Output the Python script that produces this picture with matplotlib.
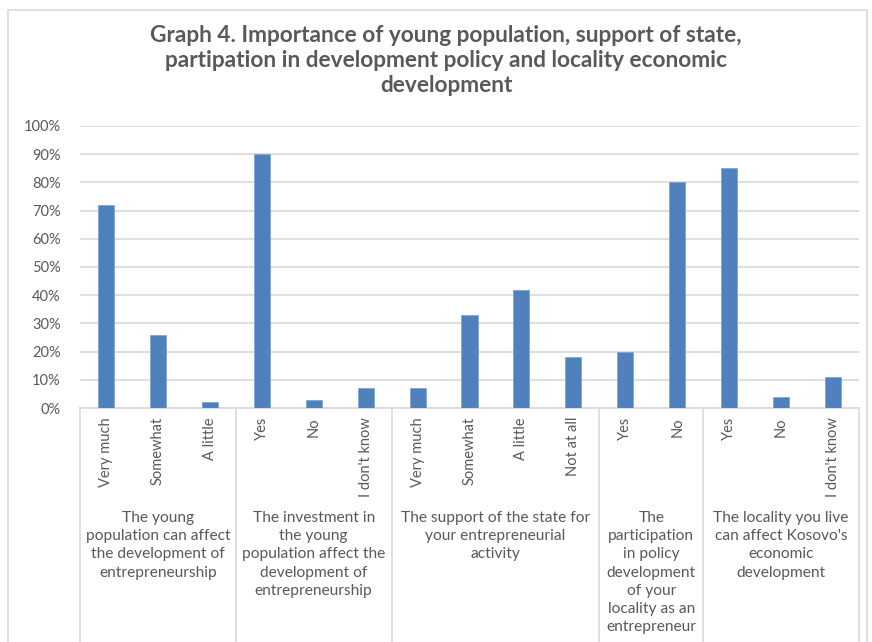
import matplotlib.pyplot as plt
import matplotlib.transforms as mtransforms
from matplotlib.patches import Rectangle

plt.rcParams['font.family'] = ['Lato', 'DejaVu Sans']

# data
answers = ['Very much', 'Somewhat', 'A little',
           'Yes', 'No', "I don't know",
           'Very much', 'Somewhat', 'A little', 'Not at all',
           'Yes', 'No',
           'Yes', 'No', "I don't know"]
values = [72, 26, 2,
          90, 3, 7,
          7, 33, 42, 18,
          20, 80,
          85, 4, 11]
group_sizes = [3, 3, 4, 2, 3]
group_names = ['The young\npopulation can affect\nthe development of\nentrepreneurship',
               'The investment in\nthe young\npopulation affect the\ndevelopment of\nentrepreneurship',
               'The support of the state for\nyour entrepreneurial\nactivity',
               'The\nparticipation\nin policy\ndevelopment\nof your\nlocality as an\nentrepreneur',
               "The locality you live\ncan affect Kosovo's\neconomic\ndevelopment"]
yticks = [0, 10, 20, 30, 40, 50, 60, 70, 80, 90, 100]

grey = '#595959'
fig = plt.figure(figsize=(8.72, 6.42), dpi=100)
ax = fig.add_axes([80 / 872, 1 - 408 / 642, (859 - 80) / 872, (408 - 126) / 642])

x = list(range(len(values)))
ax.bar(x, values, width=0.31, color='#4F81BD', edgecolor='#7a9fd0', linewidth=0.5, zorder=3)
ax.set_xlim(-0.5, len(values) - 0.5)
ax.set_ylim(0, 100)
ax.set_yticks(yticks)
ax.set_yticklabels([f'{t}%' for t in yticks], color=grey, fontsize=10.5)
ax.tick_params(axis='y', length=0, pad=14)
ax.set_xticks([])
ax.grid(axis='y', color='#d9d9d9', linewidth=1.2, zorder=0)
for s in ['top', 'right', 'left']:
    ax.spines[s].set_visible(False)
ax.spines['bottom'].set_color('#d9d9d9')
ax.spines['bottom'].set_linewidth(1.2)

trans = mtransforms.blended_transform_factory(ax.transData, ax.transAxes)
axh = 408 - 126
for i, a in enumerate(answers):
    ax.text(i, -9 / axh, a, rotation=90, ha='center', va='top', color=grey,
            fontsize=10.5, transform=trans)

start = 0
bounds = [-0.5]
for n, name in zip(group_sizes, group_names):
    mid = start + (n - 1) / 2
    ax.text(mid, -103 / axh, name, ha='center', va='top', color=grey, fontsize=11.2,
            linespacing=1.38, transform=trans)
    start += n
    bounds.append(start - 0.5)
for b in bounds:
    ax.plot([b, b], [0, -1.0], color='#d9d9d9', linewidth=1.2, transform=trans, clip_on=False)

fig.patches.append(Rectangle((8 / 872, -0.1), 859 / 872, 1.1 - 10 / 642, transform=fig.transFigure,
                             fill=False, edgecolor='#d9d9d9', linewidth=1.2))

fig.text(446 / 872, 1 - 25 / 642,
         'Graph 4. Importance of young population, support of state,\n'
         'partipation in development policy and locality economic\n'
         'development', ha='center', va='top', fontsize=16.3, fontweight='bold',
         color=grey, linespacing=1.25)

fig.savefig('out.png', dpi=100)
